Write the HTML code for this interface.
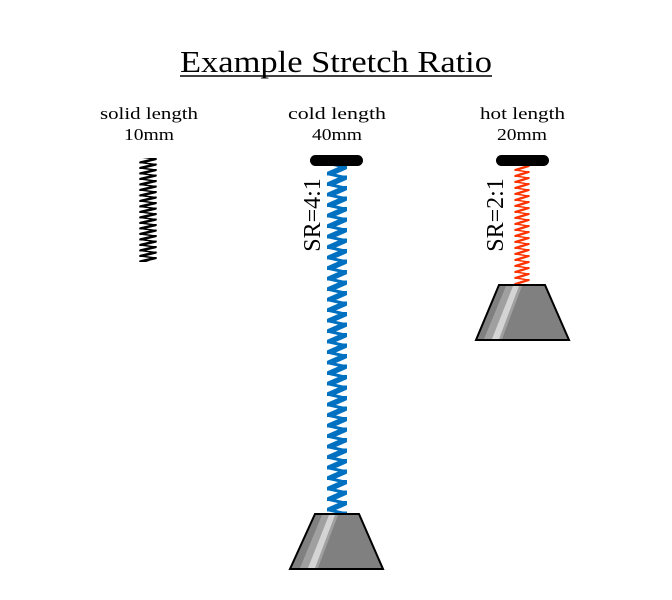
<!DOCTYPE html>
<html><head><style>body{margin:0;background:#fff}svg{display:block}</style></head>
<body>
<svg width="672" height="600" viewBox="0 0 672 600" xmlns="http://www.w3.org/2000/svg" font-family="Liberation Serif, serif">
<defs>
<pattern id="pb" patternUnits="userSpaceOnUse" x="327" y="165" width="20" height="10.5">
<path d="M2,9 L18,2" stroke="#0070c0" stroke-width="5.5" stroke-linecap="round"/>
<path d="M18,2 L2,-1.5 M18,12.5 L2,9" stroke="#0070c0" stroke-width="3" stroke-linecap="round"/>
</pattern>
<pattern id="pk" patternUnits="userSpaceOnUse" x="139" y="158" width="18" height="5.5">
<path d="M1.5,4.5 L16.5,1" stroke="#000" stroke-width="2.6" stroke-linecap="round"/>
<path d="M16.5,1 L1.5,-1 M16.5,6.5 L1.5,4.5" stroke="#000" stroke-width="1.5"/>
</pattern>
<pattern id="pr" patternUnits="userSpaceOnUse" x="514" y="165" width="16" height="6">
<path d="M1.5,5 L14.5,1" stroke="#ff3300" stroke-width="2.4" stroke-linecap="round"/>
<path d="M14.5,1 L1.5,-1 M14.5,7 L1.5,5" stroke="#ff3300" stroke-width="1.4"/>
</pattern>
</defs>
<text x="180" y="72" font-size="31" textLength="312" lengthAdjust="spacingAndGlyphs">Example Stretch Ratio</text>
<line x1="180" y1="76" x2="492" y2="76" stroke="#000" stroke-width="1.5"/>
<g font-size="17">
<text x="100" y="119" textLength="98" lengthAdjust="spacingAndGlyphs">solid length</text>
<text x="124" y="140" textLength="50" lengthAdjust="spacingAndGlyphs">10mm</text>
<text x="288" y="119" textLength="98" lengthAdjust="spacingAndGlyphs">cold length</text>
<text x="312" y="140" textLength="50" lengthAdjust="spacingAndGlyphs">40mm</text>
<text x="480" y="119" textLength="85" lengthAdjust="spacingAndGlyphs">hot length</text>
<text x="497" y="140" textLength="50" lengthAdjust="spacingAndGlyphs">20mm</text>
</g>
<rect x="139" y="158" width="18" height="104" fill="url(#pk)"/>
<rect x="327" y="165" width="20" height="350" fill="url(#pb)"/>
<rect x="514" y="165" width="16" height="120" fill="url(#pr)"/>
<rect x="310" y="155" width="53" height="11" rx="5.5" fill="#000"/>
<rect x="496" y="155" width="53" height="11" rx="5.5" fill="#000"/>
<text transform="translate(320,215) rotate(-90)" font-size="24" text-anchor="middle">SR=4:1</text>
<text transform="translate(503,215) rotate(-90)" font-size="24" text-anchor="middle">SR=2:1</text>
<g>
<polygon points="315,514 359,514 383,569 290,569" fill="#808080" stroke="#000" stroke-width="2"/>
<polygon points="322,515 338,515 318,568 300,568" fill="#a0a0a0"/>
<polygon points="329,515 335,515 315,568 308,568" fill="#d4d4d4"/>
</g>
<g>
<polygon points="499,285 545,285 569,340 476,340" fill="#808080" stroke="#000" stroke-width="2"/>
<polygon points="506,286 522,286 502,339 484,339" fill="#a0a0a0"/>
<polygon points="513,286 519,286 499,339 492,339" fill="#d4d4d4"/>
</g>
</svg>
</body></html>
